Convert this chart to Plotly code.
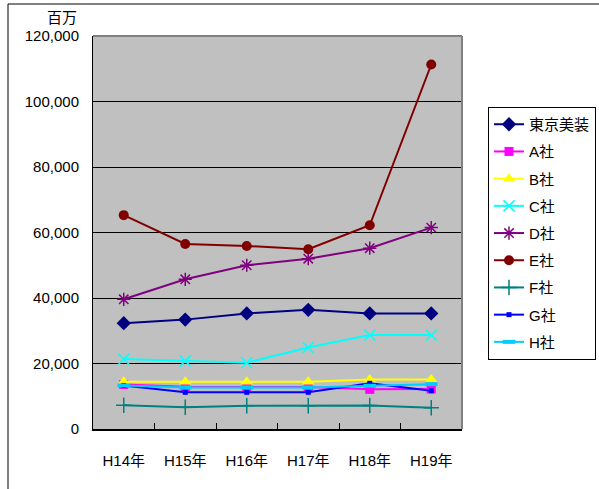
import plotly.graph_objects as go

# Fiscal years (Heisei era)
years = ["H14年", "H15年", "H16年", "H17年", "H18年", "H19年"]

# Sales in millions of yen per company
tokyo_bisou = [32300, 33400, 35300, 36400, 35300, 35300]
company_a = [13600, 12900, 12800, 12800, 12100, 12200]
company_b = [14450, 14400, 14400, 14400, 15150, 15100]
company_c = [21400, 20800, 20250, 24900, 28700, 28700]
company_d = [39600, 45700, 50000, 52000, 55200, 61500]
company_e = [65300, 56500, 55900, 54900, 62200, 111300]
company_f = [7230, 6620, 7100, 7100, 7200, 6500]
company_g = [13300, 11200, 11200, 11200, 13950, 11700]
company_h = [13300, 12700, 12700, 12700, 13200, 13700]

series_names = ["東京美装", "A社", "B社", "C社", "D社", "E社", "F社", "G社", "H社"]
series_values = [tokyo_bisou, company_a, company_b, company_c, company_d,
                 company_e, company_f, company_g, company_h]

styles = [
    dict(color="#000080", symbol="diamond", size=11, lw=0),
    dict(color="#FF00FF", symbol="square", size=9, lw=0),
    dict(color="#FFFF00", symbol="triangle-up", size=11, lw=0),
    dict(color="#00FFFF", symbol="x-thin-open", size=11, lw=1.5),
    dict(color="#800080", symbol="asterisk-open", size=11, lw=1.5),
    dict(color="#800000", symbol="circle", size=10, lw=0),
    dict(color="#008080", symbol="cross-thin-open", size=11, lw=1.5),
    dict(color="#0000FF", symbol="square", size=5, lw=0),
    dict(color="#00CCFF", symbol="line-ew-open", size=9, lw=4),
]

FONT = "Liberation Sans, Arial, Noto Sans CJK JP, sans-serif"

fig = go.Figure()
for i, (name, vals, st) in enumerate(zip(series_names, series_values, styles)):
    fig.add_trace(go.Scatter(
        x=years, y=vals, name=name, mode="lines+markers",
        legendgroup=f"g{i}",
        line=dict(color=st["color"], width=2),
        marker=dict(symbol=st["symbol"], size=st["size"], color=st["color"],
                    line=dict(color=st["color"], width=st["lw"])),
    ))

fig.update_layout(
    width=599, height=489,
    margin=dict(l=93, r=137, t=36, b=60, autoexpand=False),
    paper_bgcolor="white",
    plot_bgcolor="#C0C0C0",
    font=dict(family=FONT, size=15, color="black"),
    showlegend=True,
    legend=dict(
        x=(488 - 93) / 369, xanchor="left", y=(429 - 107) / 393, yanchor="top",
        bgcolor="white", bordercolor="black", borderwidth=1,
        font=dict(family=FONT, size=15),
        tracegroupgap=4.7,
        itemwidth=30,
        traceorder="grouped",
    ),
    xaxis=dict(
        type="category",
        showline=True, linecolor="black", linewidth=2,
        ticks="inside", ticklen=6, tickcolor="black", tickwidth=1,
        tickson="boundaries",
        showgrid=False,
        ticklabelstandoff=17,
        tickfont=dict(size=15),
        range=[-0.5, 5.5],
        fixedrange=True,
    ),
    yaxis=dict(
        range=[0, 120000],
        tick0=0, dtick=20000,
        tickformat=",d",
        showline=True, linecolor="black", linewidth=1,
        ticks="inside", ticklen=5, tickcolor="black",
        showgrid=True, gridcolor="black", gridwidth=1,
        zeroline=False,
        ticklabelstandoff=10,
        tickfont=dict(size=15),
        fixedrange=True,
    ),
    shapes=[
        # top and right edges of the plot area
        dict(type="line", xref="paper", yref="paper", x0=0, x1=1, y0=1, y1=1,
             line=dict(color="#808080", width=2)),
        dict(type="line", xref="paper", yref="paper", x0=1, x1=1, y0=0, y1=1,
             line=dict(color="#808080", width=2)),
        # outer chart frame
        dict(type="rect", xref="paper", yref="paper",
             x0=(8 - 93) / 369, x1=1.5, y0=-0.5, y1=(429 - 4) / 393,
             line=dict(color="black", width=1), fillcolor="rgba(0,0,0,0)",
             layer="below"),
    ],
    annotations=[
        dict(text="百万", xref="paper", yref="paper",
             x=(62 - 93) / 369, y=(429 - 18) / 393,
             xanchor="center", yanchor="middle", showarrow=False,
             font=dict(family=FONT, size=15)),
    ],
)

fig.write_html("out.html")
